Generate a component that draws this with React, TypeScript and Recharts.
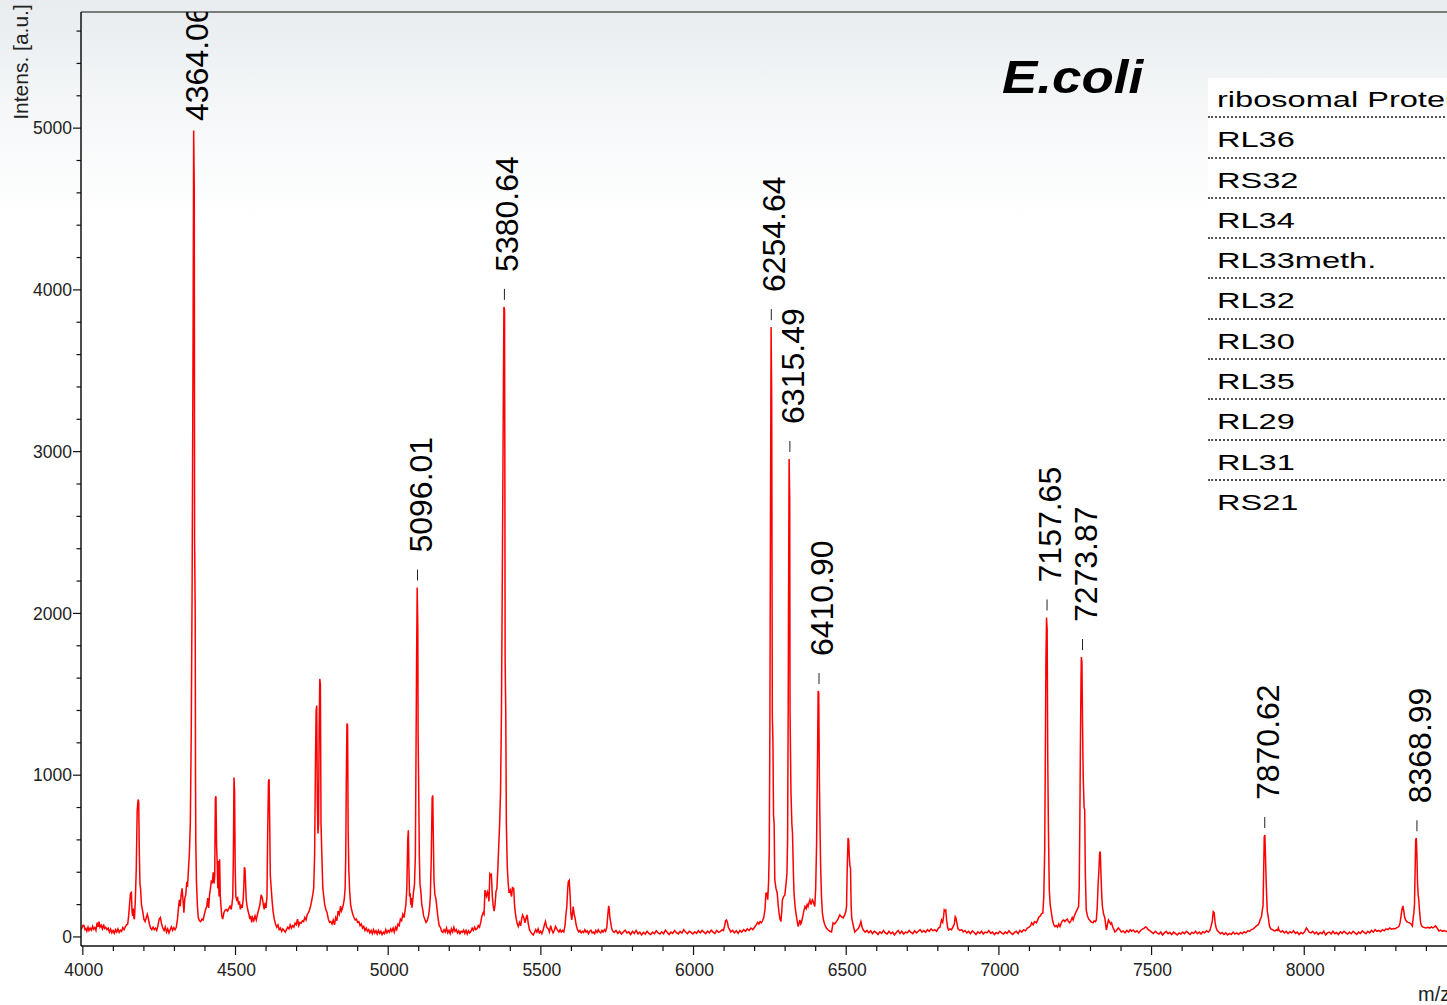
import React from "react";
import { ComposedChart, Line, Scatter, XAxis, YAxis, ReferenceLine } from "recharts";

// m/z, intensity pairs
const spectrumLow: [number, number][] = [
  [3994, 45], [3998, 60], [4001, 72], [4004, 70], [4007, 45], [4010, 52], [4013, 36], [4017, 60], [4020, 40], [4024, 55],
  [4028, 42], [4032, 66], [4035, 48], [4039, 58], [4043, 40], [4047, 88], [4050, 62], [4053, 95], [4056, 60], [4060, 72],
  [4064, 50], [4068, 78], [4071, 52], [4075, 60], [4079, 45], [4083, 55], [4087, 30], [4091, 48], [4095, 25], [4099, 40],
  [4103, 22], [4107, 45], [4111, 30], [4115, 50], [4119, 28], [4123, 42], [4127, 35], [4131, 58], [4135, 45], [4139, 62],
  [4143, 75], [4147, 80], [4150, 130], [4153, 200], [4156, 270], [4159, 275], [4161, 160], [4163, 130], [4165, 175], [4167, 120],
  [4169, 110], [4172, 230], [4175, 420], [4178, 780], [4181, 850], [4183, 835], [4185, 520], [4187, 330], [4189, 300], [4192, 200],
  [4196, 160], [4200, 110], [4204, 95], [4208, 120], [4211, 140], [4214, 120], [4218, 80], [4222, 55], [4226, 45], [4230, 60],
  [4234, 45], [4238, 55], [4242, 40], [4246, 70], [4250, 110], [4254, 120], [4258, 80], [4262, 55], [4266, 40], [4270, 62],
  [4274, 30], [4278, 50], [4282, 25], [4286, 45], [4290, 62], [4294, 40], [4298, 58], [4302, 45], [4306, 60], [4310, 110],
  [4313, 175], [4316, 230], [4319, 190], [4322, 260], [4325, 300], [4328, 230], [4331, 150], [4334, 240], [4337, 260], [4340, 330],
  [4343, 320], [4346, 420], [4349, 520], [4352, 700], [4355, 1250], [4358, 2200], [4361, 3700], [4363, 4985], [4365, 4600], [4366, 2450],
  [4368, 2000], [4369, 1000], [4370, 580], [4372, 350], [4375, 200], [4378, 120], [4382, 100], [4386, 95], [4390, 110], [4394, 105],
  [4398, 140], [4402, 170], [4406, 190], [4409, 240], [4412, 180], [4415, 260], [4418, 300], [4421, 350], [4424, 330], [4427, 400],
  [4430, 330], [4432, 380], [4434, 860], [4436, 870], [4438, 560], [4440, 460], [4442, 300], [4444, 470], [4446, 250], [4448, 480],
  [4450, 260], [4452, 200], [4455, 130], [4458, 110], [4462, 150], [4466, 165], [4470, 170], [4474, 160], [4478, 175], [4482, 190],
  [4486, 170], [4489, 210], [4491, 250], [4493, 500], [4495, 985], [4497, 900], [4499, 420], [4501, 250], [4504, 230], [4507, 240],
  [4510, 200], [4513, 220], [4516, 170], [4519, 200], [4522, 180], [4525, 230], [4527, 300], [4529, 430], [4531, 420], [4533, 330],
  [4535, 230], [4538, 190], [4541, 160], [4544, 140], [4547, 110], [4550, 130], [4553, 90], [4556, 120], [4560, 100], [4564, 130],
  [4568, 105], [4572, 140], [4576, 170], [4580, 200], [4584, 260], [4588, 240], [4591, 200], [4594, 170], [4597, 210], [4600, 180],
  [4603, 250], [4605, 600], [4608, 960], [4610, 975], [4612, 700], [4614, 380], [4617, 300], [4620, 220], [4623, 160], [4627, 110],
  [4631, 80], [4635, 60], [4639, 75], [4643, 45], [4647, 55], [4651, 35], [4655, 50], [4659, 40], [4663, 30], [4667, 45],
  [4671, 60], [4675, 50], [4679, 75], [4683, 55], [4687, 70], [4691, 60], [4695, 85], [4699, 75], [4703, 110], [4707, 70],
  [4711, 90], [4715, 85], [4719, 100], [4723, 95], [4727, 120], [4731, 105], [4735, 140], [4739, 150], [4743, 170], [4747, 200],
  [4750, 230], [4753, 260], [4756, 300], [4759, 500], [4762, 1100], [4764, 1400], [4766, 1430], [4768, 820], [4770, 640], [4772, 700],
  [4774, 1300], [4776, 1595], [4778, 1560], [4780, 700], [4782, 560], [4784, 420], [4786, 300], [4789, 250], [4792, 200], [4796, 170],
  [4800, 150], [4804, 110], [4808, 90], [4812, 95], [4816, 80], [4820, 105], [4824, 75], [4828, 120], [4832, 100], [4836, 160],
  [4840, 140], [4844, 190], [4847, 160], [4850, 175], [4853, 200], [4856, 230], [4859, 300], [4861, 500], [4863, 1000], [4865, 1320],
  [4867, 1310], [4869, 650], [4871, 420], [4874, 280], [4877, 200], [4880, 170], [4884, 140], [4888, 120], [4892, 105], [4896, 110],
  [4900, 90],
];

const spectrumMid: [number, number][] = [
  [4904, 95], [4908, 70], [4912, 80], [4916, 55], [4920, 65], [4924, 40], [4928, 55], [4932, 35], [4936, 45], [4940, 25],
  [4944, 40], [4948, 20], [4952, 45], [4956, 25], [4960, 38], [4964, 18], [4968, 40], [4972, 22], [4976, 35], [4980, 15],
  [4984, 30], [4988, 20], [4992, 45], [4996, 25], [5000, 40], [5004, 30], [5008, 50], [5012, 35], [5016, 55], [5020, 30],
  [5024, 60], [5028, 45], [5032, 80], [5036, 70], [5040, 110], [5044, 100], [5048, 140], [5052, 120], [5055, 160], [5058, 200],
  [5061, 300], [5064, 600], [5066, 660], [5068, 420], [5070, 250], [5072, 270], [5074, 200], [5076, 240], [5078, 180], [5080, 220],
  [5083, 280], [5086, 320], [5089, 500], [5091, 1100], [5093, 1700], [5095, 2160], [5097, 1900], [5098, 1250], [5100, 900], [5102, 500],
  [5104, 330], [5107, 280], [5110, 200], [5113, 170], [5116, 130], [5120, 110], [5124, 90], [5128, 100], [5132, 130], [5135, 170],
  [5138, 250], [5141, 480], [5144, 860], [5146, 875], [5148, 600], [5150, 350], [5153, 260], [5156, 240], [5159, 190], [5163, 120],
  [5167, 70], [5171, 60], [5175, 35], [5179, 28], [5183, 45], [5187, 30], [5191, 55], [5195, 25], [5199, 40], [5203, 20],
  [5207, 50], [5211, 30], [5215, 60], [5219, 35], [5223, 45], [5227, 25], [5231, 38], [5235, 20], [5239, 35], [5243, 28],
  [5247, 42], [5251, 22], [5255, 40], [5259, 18], [5263, 38], [5267, 25], [5271, 35], [5275, 55], [5279, 40], [5283, 60],
  [5287, 45], [5291, 50], [5295, 70], [5299, 60], [5303, 90], [5307, 130], [5311, 150], [5314, 140], [5317, 290], [5320, 260],
  [5322, 250], [5325, 280], [5327, 270], [5330, 220], [5333, 390], [5336, 380], [5338, 385], [5341, 250], [5344, 190], [5347, 160],
  [5350, 200], [5353, 280], [5356, 300], [5359, 420], [5362, 560], [5365, 700], [5368, 900], [5371, 1400], [5374, 2300], [5377, 3300],
  [5379, 3895], [5381, 3880], [5382, 3000], [5383, 1700], [5385, 1400], [5387, 700], [5390, 435], [5393, 330], [5396, 272], [5400, 290],
  [5404, 250], [5407, 305], [5411, 300], [5414, 190], [5417, 140], [5420, 105], [5423, 80], [5426, 64], [5430, 90], [5434, 70],
  [5437, 110], [5440, 136], [5444, 120], [5448, 87], [5452, 120], [5455, 136], [5459, 80], [5463, 43], [5467, 30], [5471, 20],
  [5475, 12], [5479, 28], [5483, 45], [5487, 30], [5491, 50], [5495, 25], [5499, 35], [5503, 20], [5507, 40], [5511, 70],
  [5515, 95], [5519, 60], [5524, 50], [5528, 30], [5532, 70], [5536, 45], [5540, 25], [5544, 40], [5548, 65], [5551, 55],
  [5555, 40], [5559, 30], [5563, 45], [5567, 30], [5571, 40], [5575, 31], [5579, 70], [5582, 136], [5585, 190], [5588, 300],
  [5590, 342], [5593, 350], [5596, 250], [5598, 150], [5601, 105], [5604, 150], [5606, 188], [5609, 140], [5612, 118], [5616, 70],
  [5620, 45], [5624, 31], [5628, 40], [5632, 25], [5636, 35], [5640, 28], [5644, 45], [5648, 30], [5652, 38], [5656, 20],
  [5660, 35], [5664, 42], [5668, 25], [5672, 30], [5676, 20], [5680, 40], [5684, 28], [5688, 45], [5692, 30], [5696, 25],
  [5700, 40], [5704, 30], [5708, 45], [5712, 35], [5716, 60], [5719, 130], [5722, 192], [5724, 170], [5726, 120], [5729, 87],
  [5732, 50], [5736, 35], [5740, 28], [5746, 40], [5752, 22], [5758, 35], [5764, 18], [5770, 30], [5776, 42], [5782, 25],
  [5788, 32], [5794, 15], [5800, 35], [5806, 22], [5812, 40], [5818, 20], [5824, 30], [5830, 12], [5836, 28], [5842, 18],
  [5848, 35], [5854, 22], [5860, 15], [5866, 30], [5872, 20], [5878, 38], [5884, 25], [5890, 18], [5896, 32], [5902, 20],
  [5908, 42], [5914, 28], [5920, 15], [5926, 30], [5932, 22], [5938, 40], [5944, 26], [5950, 18], [5956, 34], [5962, 24],
  [5968, 45], [5974, 30], [5980, 20], [5986, 35], [5992, 28], [5998, 18], [6004, 32], [6010, 22], [6016, 38], [6022, 25],
  [6028, 40], [6034, 30], [6040, 20], [6046, 36], [6052, 25], [6058, 42], [6064, 30], [6070, 22], [6076, 40], [6082, 28],
  [6088, 35], [6094, 45], [6098, 40], [6102, 70], [6105, 100], [6108, 105], [6111, 90], [6114, 60], [6118, 45], [6122, 30],
  [6128, 40], [6134, 25], [6140, 38], [6146, 22], [6152, 40], [6158, 30], [6164, 45], [6170, 35], [6176, 50], [6182, 40],
  [6188, 55], [6194, 45], [6200, 60], [6205, 75], [6210, 90], [6214, 80], [6218, 95], [6222, 87], [6226, 100], [6230, 120],
  [6234, 170], [6237, 270], [6240, 272], [6243, 230], [6246, 350], [6248, 540], [6250, 1300], [6252, 2600], [6254, 3770], [6256, 3300],
  [6258, 1370], [6260, 1200], [6262, 750], [6264, 700], [6266, 353], [6270, 300], [6274, 272], [6277, 200], [6280, 148], [6283, 110],
  [6286, 95], [6289, 160], [6291, 229], [6295, 250], [6299, 260], [6303, 330], [6306, 396], [6308, 600], [6310, 1400], [6312, 2500],
  [6313, 2955], [6315, 2700], [6316, 1400], [6319, 900], [6322, 700], [6324, 643], [6327, 400], [6329, 272], [6333, 180], [6337, 126],
  [6340, 90], [6343, 64], [6346, 90], [6348, 105], [6351, 80], [6353, 87], [6357, 120], [6361, 160], [6365, 188], [6369, 175],
  [6372, 200], [6375, 188], [6378, 210], [6381, 229], [6385, 200], [6389, 230], [6392, 219], [6395, 200], [6397, 188], [6400, 300],
  [6403, 580], [6406, 1100], [6408, 1520], [6410, 1510], [6412, 1000], [6414, 700], [6416, 457], [6419, 250], [6422, 148], [6426, 100],
  [6430, 75], [6435, 55], [6441, 43], [6446, 35], [6452, 31], [6457, 87], [6462, 80], [6468, 95], [6473, 110], [6479, 136],
  [6484, 125], [6490, 118], [6495, 136], [6499, 160], [6501, 188], [6503, 400], [6506, 612], [6508, 600], [6510, 500], [6512, 440],
  [6514, 427], [6516, 200], [6518, 118], [6522, 80], [6528, 31], [6533, 40], [6539, 50], [6544, 70], [6548, 95], [6552, 60],
  [6556, 43],
];

const spectrumHigh: [number, number][] = [
  [6562, 30], [6568, 40], [6574, 25], [6580, 38], [6586, 20], [6592, 35], [6598, 28], [6604, 15], [6610, 32], [6616, 22],
  [6622, 40], [6628, 25], [6634, 18], [6640, 35], [6646, 20], [6652, 30], [6658, 12], [6664, 28], [6670, 40], [6676, 22],
  [6682, 35], [6688, 18], [6694, 30], [6700, 25], [6706, 40], [6712, 28], [6718, 20], [6724, 38], [6730, 25], [6736, 35],
  [6742, 45], [6748, 30], [6754, 40], [6760, 28], [6766, 45], [6772, 35], [6778, 50], [6784, 38], [6790, 45], [6796, 35],
  [6802, 55], [6807, 60], [6812, 105], [6816, 90], [6819, 130], [6821, 167], [6824, 160], [6826, 165], [6829, 100], [6832, 60],
  [6835, 43], [6840, 50], [6845, 45], [6850, 64], [6854, 80], [6857, 126], [6859, 120], [6862, 90], [6866, 50], [6872, 40],
  [6878, 45], [6883, 31], [6889, 40], [6895, 25], [6901, 35], [6907, 20], [6913, 38], [6919, 28], [6925, 15], [6931, 32],
  [6937, 22], [6943, 35], [6949, 18], [6955, 30], [6961, 25], [6967, 40], [6973, 22], [6979, 30], [6985, 15], [6991, 28],
  [6997, 20], [7003, 35], [7009, 25], [7015, 18], [7021, 30], [7027, 22], [7033, 38], [7039, 25], [7045, 15], [7051, 28],
  [7057, 35], [7063, 20], [7069, 40], [7075, 30], [7081, 45], [7087, 38], [7093, 55], [7099, 60], [7104, 70], [7107, 87],
  [7112, 75], [7117, 95], [7123, 87], [7128, 110], [7132, 126], [7136, 130], [7140, 145], [7144, 148], [7147, 250], [7150, 538],
  [7152, 1100], [7154, 1700], [7156, 1975], [7158, 1900], [7160, 1100], [7162, 700], [7165, 291], [7168, 200], [7172, 148], [7176, 100],
  [7180, 75], [7184, 64], [7188, 70], [7192, 60], [7196, 80], [7200, 64], [7204, 85], [7208, 100], [7212, 105], [7216, 95],
  [7220, 105], [7224, 110], [7228, 95], [7232, 87], [7236, 100], [7240, 120], [7243, 105], [7247, 130], [7251, 148], [7254, 160],
  [7258, 175], [7261, 188], [7263, 300], [7265, 700], [7267, 1200], [7269, 1600], [7270, 1730], [7272, 1700], [7274, 1300], [7276, 1000],
  [7279, 800], [7281, 786], [7283, 400], [7286, 167], [7290, 130], [7294, 110], [7297, 105], [7301, 95], [7305, 90], [7308, 87],
  [7312, 100], [7316, 95], [7319, 105], [7322, 180], [7325, 330], [7327, 396], [7330, 520], [7332, 528], [7334, 400], [7337, 250],
  [7339, 188], [7343, 140], [7347, 118], [7350, 70], [7352, 43], [7356, 80], [7359, 105], [7362, 95], [7366, 80], [7369, 87],
  [7373, 60], [7377, 45], [7380, 31], [7385, 40], [7391, 56], [7396, 45], [7401, 30], [7407, 37], [7413, 25], [7419, 40],
  [7425, 30], [7430, 45], [7435, 35], [7440, 43], [7446, 30], [7452, 38], [7458, 25], [7464, 40], [7470, 48], [7476, 55],
  [7480, 62], [7484, 58], [7489, 45], [7495, 37], [7500, 30], [7506, 22], [7512, 35], [7518, 25], [7524, 18], [7530, 30],
  [7536, 12], [7542, 25], [7548, 35], [7554, 20], [7560, 28], [7566, 15], [7572, 30], [7578, 22], [7584, 12], [7590, 25],
  [7596, 18], [7602, 30], [7608, 20], [7614, 35], [7620, 25], [7626, 15], [7632, 28], [7638, 22], [7644, 35], [7650, 20],
  [7656, 30], [7662, 18], [7668, 32], [7674, 25], [7680, 38], [7686, 30], [7691, 40], [7695, 68], [7699, 100], [7702, 157],
  [7705, 150], [7708, 90], [7711, 60], [7715, 40], [7720, 30], [7725, 20], [7731, 28], [7737, 15], [7743, 25], [7749, 12],
  [7755, 22], [7761, 15], [7767, 30], [7773, 18], [7779, 25], [7785, 15], [7791, 28], [7797, 20], [7803, 32], [7809, 25],
  [7815, 38], [7821, 35], [7827, 45], [7833, 50], [7839, 60], [7844, 70], [7849, 74], [7853, 90], [7856, 110], [7860, 126],
  [7863, 170], [7865, 190], [7867, 400], [7869, 620], [7871, 630], [7873, 500], [7875, 360], [7877, 250], [7879, 160], [7882, 126],
  [7885, 80], [7887, 62], [7891, 50], [7896, 45], [7900, 40], [7904, 37], [7909, 45], [7913, 40], [7915, 56], [7918, 40],
  [7923, 30], [7929, 38], [7935, 25], [7941, 35], [7947, 20], [7953, 32], [7959, 25], [7965, 38], [7971, 22], [7977, 30],
  [7983, 15], [7989, 28], [7995, 20], [8001, 32], [8007, 56], [8011, 45], [8016, 30], [8022, 25], [8028, 35], [8034, 20],
  [8040, 30], [8046, 15], [8052, 28], [8058, 20], [8064, 35], [8070, 12], [8076, 25], [8082, 30], [8088, 18], [8094, 35],
  [8100, 20], [8106, 28], [8112, 15], [8118, 32], [8124, 22], [8130, 35], [8136, 25], [8142, 18], [8148, 30], [8154, 20],
  [8160, 35], [8166, 25], [8172, 15], [8178, 30], [8184, 22], [8190, 38], [8196, 28], [8202, 20], [8208, 35], [8214, 25],
  [8220, 40], [8226, 30], [8232, 45], [8238, 35], [8244, 40], [8250, 32], [8256, 45], [8262, 38], [8268, 50], [8274, 45],
  [8280, 55], [8286, 48], [8292, 52], [8297, 50], [8302, 56], [8307, 60], [8311, 68], [8314, 90], [8317, 130], [8320, 170],
  [8323, 192], [8326, 160], [8329, 120], [8332, 105], [8336, 95], [8340, 90], [8345, 87], [8350, 80], [8354, 68], [8357, 120],
  [8359, 150], [8361, 200], [8363, 400], [8365, 600], [8367, 612], [8369, 500], [8371, 330], [8373, 260], [8375, 230], [8378, 150],
  [8381, 90], [8384, 68], [8388, 62], [8393, 58], [8399, 56], [8405, 60], [8411, 55], [8416, 62], [8421, 56], [8426, 62],
  [8430, 68], [8435, 55], [8441, 37], [8447, 42], [8453, 35], [8459, 40], [8465, 33], [8472, 38], [8480, 30], [8490, 35],
  [8500, 28], [8520, 32], [8540, 26], [8560, 30], [8600, 28], [8650, 30], [8700, 25],
];

const peakMasses = [4364.06, 5096.01, 5380.64, 6254.64, 6315.49, 6410.9, 7157.65, 7273.87, 7870.62, 8368.99];
const peakHeights = [4985, 2160, 3895, 3770, 2955, 1520, 1975, 1730, 630, 610];

const proteins = ["ribosomal Proteins", "RL36", "RS32", "RL34", "RL33meth.", "RL32", "RL30", "RL35", "RL29", "RL31", "RS21"];

const xTicks = [
  4000, 4100, 4200, 4300, 4400, 4500, 4600, 4700, 4800, 4900, 5000, 5100, 5200, 5300, 5400, 5500, 5600, 5700, 5800, 5900,
  6000, 6100, 6200, 6300, 6400, 6500, 6600, 6700, 6800, 6900, 7000, 7100, 7200, 7300, 7400, 7500, 7600, 7700, 7800, 7900,
  8000, 8100, 8200, 8300, 8400,
];
const yTicks = [
  0, 200, 400, 600, 800, 1000, 1200, 1400, 1600, 1800, 2000, 2200, 2400, 2600, 2800, 3000, 3200, 3400, 3600, 3800, 4000,
  4200, 4400, 4600, 4800, 5000, 5200, 5400, 5600,
];

const FONT = "'Liberation Sans', Arial, Helvetica, sans-serif";
const Y_MIN = -56;
const Y_MAX = 5718;

const spectrum = [...spectrumLow, ...spectrumMid, ...spectrumHigh].map(([mz, intens]) => ({ mz, intens }));
const peaks = peakMasses.map((mz, i) => ({ mz, intens: peakHeights[i], label: mz.toFixed(2) }));

const XTick = (props: any) => {
  const { x, y, payload } = props;
  const major = payload.value % 500 === 0;
  return (
    <g>
      <line x1={x} x2={x} y1={y} y2={y + (major ? 9 : 5)} stroke="#111" strokeWidth={1.2} />
      {major && (
        <text x={x + 1} y={y + 30} textAnchor="middle" fontSize={17.5} fontFamily={FONT} fill="#222">
          {payload.value}
        </text>
      )}
    </g>
  );
};

const YTick = (props: any) => {
  const { x, y, payload } = props;
  const major = payload.value % 1000 === 0;
  return (
    <g>
      <line x1={x - (major ? 8 : 4.5)} x2={x} y1={y} y2={y} stroke="#111" strokeWidth={1.2} />
      {major && (
        <text x={x - 9} y={y} dy="0.36em" textAnchor="end" fontSize={17.5} fontFamily={FONT} fill="#222">
          {payload.value}
        </text>
      )}
    </g>
  );
};

const PeakLabel = (props: any) => {
  const { cx, cy, payload } = props;
  const textLen = 116;
  // labels near the top get pushed down so they stay inside the frame
  const lift = Math.min(35, cy - 5 - textLen);
  return (
    <g>
      {lift >= 30 && <line x1={cx} x2={cx} y1={cy - 18} y2={cy - 7} stroke="#222" strokeWidth={1} />}
      <text
        transform={`translate(${cx + 14},${cy - lift}) rotate(-90)`}
        fontSize={32}
        fontFamily={FONT}
        fill="#000"
      >
        {payload.label}
      </text>
    </g>
  );
};

export default function App() {
  return (
    <div
      style={{
        position: "absolute",
        left: 0,
        top: 0,
        width: 1447,
        height: 1005,
        overflow: "hidden",
        background: "linear-gradient(to bottom, #e8ecef 0px, #f5f7f8 110px, #ffffff 220px)",
      }}
    >
      <ComposedChart width={1560} height={1005} margin={{ top: 12, right: 42, bottom: 0, left: 0 }}>
        <XAxis
          type="number"
          dataKey="mz"
          domain={[3994, 8700]}
          allowDataOverflow
          ticks={xTicks}
          interval={0}
          tick={<XTick />}
          tickLine={false}
          tickSize={0}
          tickMargin={0}
          height={59}
          axisLine={{ stroke: "#111", strokeWidth: 1.5 }}
        />
        <YAxis
          type="number"
          domain={[Y_MIN, Y_MAX]}
          allowDataOverflow
          ticks={yTicks}
          interval={0}
          tick={<YTick />}
          tickLine={false}
          tickSize={0}
          tickMargin={0}
          width={81}
          axisLine={{ stroke: "#111", strokeWidth: 1.5 }}
        />
        <ReferenceLine y={Y_MAX} stroke="#555" strokeWidth={1.5} />
        <Line
          data={spectrum}
          dataKey="intens"
          type="linear"
          stroke="#ff0000"
          strokeWidth={1.5}
          dot={false}
          activeDot={false}
          isAnimationActive={false}
        />
        <Scatter data={peaks} dataKey="intens" shape={<PeakLabel />} isAnimationActive={false} />
      </ComposedChart>

      <svg width={1447} height={1005} style={{ position: "absolute", left: 0, top: 0, pointerEvents: "none" }}>
        <text transform="translate(28,62) rotate(-90)" textAnchor="middle" fontSize={21} fontFamily={FONT} fill="#222">
          Intens. [a.u.]
        </text>
        <text
          transform="translate(1002,93) scale(1.15,1)"
          fontSize={46}
          fontWeight="bold"
          fontStyle="italic"
          fontFamily={FONT}
          fill="#000"
        >
          E.coli
        </text>
        <text x={1418} y={1001} fontSize={20} fontFamily={FONT} fill="#222">
          m/z
        </text>
      </svg>

      <div style={{ position: "absolute", left: 1208, top: 78, width: 400, background: "#fff" }}>
        {proteins.map((p, i) => (
          <div
            key={p}
            style={{
              height: 40.3,
              boxSizing: "border-box",
              borderBottom: i < proteins.length - 1 ? "2px dotted #555" : "none",
              paddingTop: 9,
              paddingLeft: 9,
              fontSize: 22,
              lineHeight: "26px",
              fontFamily: FONT,
              whiteSpace: "nowrap",
              color: "#000",
            }}
          >
            <span style={{ display: "inline-block", transform: "scaleX(1.48)", transformOrigin: "left center" }}>{p}</span>
          </div>
        ))}
      </div>
    </div>
  );
}
